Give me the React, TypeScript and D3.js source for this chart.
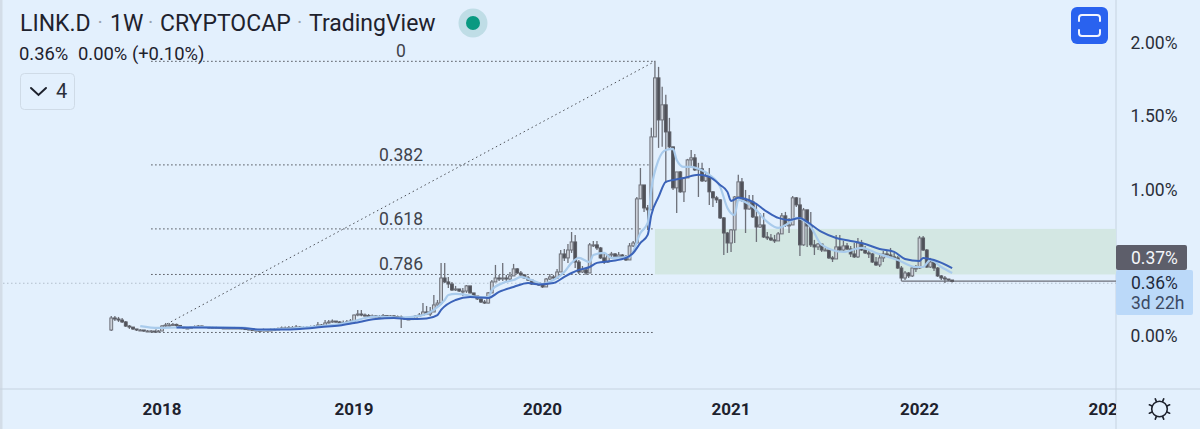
import * as d3 from "d3";

const W = 1200;
const H = 429;
const axisX = 1116;
const axisBottom = 389;

const firstBar = new Date(2017, 8, 25);
const barDate = (i: number) => d3.timeDay.offset(firstBar, i * 7);

// first candle's open; every later candle opens on the previous close
const firstOpen = 0.041;

const closes = [
  0.123, 0.116, 0.109, 0.096, 0.068, 0.061, 0.048, 0.041, 0.041, 0.034, 0.034, 0.034, 0.027, 0.034,
  0.068, 0.075, 0.075, 0.079, 0.072, 0.061, 0.055, 0.051, 0.061, 0.065,
  0.068, 0.065, 0.061, 0.058, 0.058, 0.058, 0.055, 0.055, 0.055, 0.055, 0.055, 0.055,
  0.051, 0.048, 0.044, 0.041, 0.038, 0.038, 0.041, 0.038, 0.041, 0.044, 0.048, 0.055, 0.055, 0.058, 0.058, 0.061, 0.058, 0.055, 0.058, 0.061, 0.065,
  0.075, 0.072, 0.089, 0.096, 0.102, 0.096, 0.092, 0.092, 0.096, 0.102, 0.143, 0.15, 0.143, 0.14, 0.137, 0.137, 0.133, 0.13, 0.14, 0.137, 0.137, 0.133, 0.13, 0.123,
  0.116, 0.116, 0.119, 0.137, 0.143, 0.164, 0.15, 0.164, 0.212, 0.225, 0.396, 0.369, 0.355, 0.314, 0.321, 0.307, 0.307, 0.342, 0.294, 0.273,
  0.253, 0.232, 0.225, 0.294, 0.369, 0.396, 0.389, 0.396, 0.389, 0.41, 0.458, 0.43, 0.417, 0.396, 0.382, 0.355, 0.362, 0.348, 0.335, 0.389,
  0.403, 0.396, 0.437, 0.56, 0.533, 0.587, 0.642, 0.505, 0.437, 0.451, 0.43, 0.622, 0.622, 0.601, 0.533, 0.505, 0.553, 0.56, 0.54, 0.553,
  0.54, 0.519, 0.615, 0.635, 0.936, 1.031, 0.874, 0.861, 1.359, 1.762, 1.475, 1.578, 1.393, 1.291, 1.011, 1.12, 0.984, 1.079, 1.202, 1.216,
  1.134, 1.141, 1.059, 1.093, 0.984, 0.943, 0.929, 0.806, 0.703, 0.635, 0.724, 0.949, 1.052, 0.929, 0.867, 0.915, 0.813, 0.744, 0.758, 0.676,
  0.669, 0.656, 0.649, 0.697, 0.82, 0.758, 0.758, 0.943, 0.895, 0.622, 0.861, 0.751, 0.622, 0.608, 0.628, 0.587, 0.587, 0.533, 0.526, 0.608,
  0.587, 0.615, 0.594, 0.56, 0.54, 0.635, 0.587, 0.567, 0.56, 0.505, 0.485, 0.533, 0.56, 0.553, 0.54, 0.533, 0.464, 0.396, 0.43, 0.41,
  0.464, 0.464, 0.669, 0.587, 0.471, 0.505, 0.464, 0.41, 0.396, 0.389, 0.382, 0.372,
];

const highs = [
  0.137, 0.137, 0.13, 0.123, 0.102, 0.075, 0.061, 0.048, 0.048, 0.041, 0.041, 0.041, 0.034, 0.041,
  0.075, 0.089, 0.089, 0.089, 0.085, 0.075, 0.065, 0.061, 0.068, 0.072,
  0.075, 0.072, 0.068, 0.068, 0.065, 0.065, 0.062, 0.062, 0.062, 0.062, 0.062, 0.062,
  0.061, 0.058, 0.054, 0.051, 0.048, 0.048, 0.051, 0.048, 0.051, 0.054, 0.058, 0.065, 0.065, 0.068, 0.068, 0.075, 0.068, 0.065, 0.068, 0.071, 0.075,
  0.096, 0.082, 0.109, 0.109, 0.113, 0.102, 0.102, 0.106, 0.109, 0.116, 0.147, 0.178, 0.178, 0.154, 0.15, 0.147, 0.143, 0.143, 0.15, 0.143, 0.143, 0.143, 0.14, 0.14,
  0.13, 0.123, 0.126, 0.143, 0.157, 0.225, 0.205, 0.198, 0.28, 0.246, 0.499, 0.499, 0.403, 0.369, 0.342, 0.321, 0.328, 0.348, 0.342, 0.294,
  0.273, 0.26, 0.246, 0.301, 0.382, 0.485, 0.417, 0.499, 0.417, 0.437, 0.492, 0.464, 0.444, 0.417, 0.41, 0.382, 0.376, 0.369, 0.355, 0.396,
  0.423, 0.417, 0.458, 0.587, 0.594, 0.628, 0.71, 0.69, 0.519, 0.478, 0.458, 0.635, 0.649, 0.649, 0.608, 0.567, 0.56, 0.574, 0.567, 0.574,
  0.56, 0.553, 0.635, 0.649, 0.949, 1.147, 1.031, 0.895, 1.421, 1.878, 1.837, 1.701, 1.646, 1.489, 1.291, 1.12, 1.127, 1.086, 1.209, 1.27,
  1.243, 1.182, 1.182, 1.113, 1.147, 0.99, 0.956, 0.936, 0.813, 0.71, 0.731, 0.956, 1.1, 1.079, 0.997, 0.963, 0.963, 0.908, 0.84, 0.84,
  0.71, 0.697, 0.69, 0.71, 0.84, 0.847, 0.806, 0.956, 0.949, 0.943, 0.874, 0.861, 0.847, 0.656, 0.635, 0.622, 0.601, 0.587, 0.546, 0.69,
  0.69, 0.649, 0.635, 0.615, 0.635, 0.669, 0.656, 0.615, 0.587, 0.567, 0.54, 0.567, 0.581, 0.581, 0.601, 0.567, 0.546, 0.478, 0.444, 0.437,
  0.471, 0.485, 0.683, 0.683, 0.594, 0.533, 0.505, 0.471, 0.417, 0.41, 0.389, 0.379,
];

const lows = [
  0.034, 0.102, 0.096, 0.089, 0.061, 0.048, 0.041, 0.034, 0.034, 0.027, 0.027, 0.027, 0.024, 0.027,
  0.034, 0.061, 0.065, 0.068, 0.061, 0.055, 0.048, 0.048, 0.048, 0.055,
  0.061, 0.058, 0.055, 0.051, 0.051, 0.051, 0.051, 0.051, 0.051, 0.051, 0.051, 0.051,
  0.046, 0.043, 0.039, 0.036, 0.033, 0.033, 0.036, 0.033, 0.036, 0.039, 0.043, 0.05, 0.05, 0.053, 0.053, 0.056, 0.053, 0.05, 0.053, 0.056, 0.058,
  0.063, 0.065, 0.07, 0.085, 0.09, 0.09, 0.085, 0.085, 0.088, 0.092, 0.1, 0.135, 0.135, 0.135, 0.13, 0.13, 0.127, 0.125, 0.128, 0.13, 0.13, 0.127, 0.123, 0.055,
  0.109, 0.109, 0.113, 0.119, 0.13, 0.143, 0.143, 0.137, 0.164, 0.198, 0.212, 0.362, 0.328, 0.307, 0.307, 0.301, 0.273, 0.294, 0.29, 0.266,
  0.246, 0.225, 0.219, 0.222, 0.294, 0.369, 0.376, 0.376, 0.376, 0.382, 0.41, 0.423, 0.41, 0.389, 0.376, 0.348, 0.348, 0.342, 0.328, 0.335,
  0.382, 0.389, 0.389, 0.437, 0.512, 0.499, 0.567, 0.464, 0.423, 0.43, 0.417, 0.43, 0.608, 0.587, 0.526, 0.492, 0.499, 0.526, 0.533, 0.533,
  0.533, 0.512, 0.519, 0.608, 0.635, 0.943, 0.847, 0.724, 0.861, 1.359, 1.284, 1.291, 1.045, 1.27, 0.997, 0.84, 0.977, 0.915, 1.079, 1.147,
  1.127, 0.949, 1.052, 1.052, 0.895, 0.881, 0.908, 0.799, 0.553, 0.567, 0.574, 0.635, 0.943, 0.915, 0.703, 0.861, 0.806, 0.642, 0.738, 0.669,
  0.656, 0.649, 0.635, 0.649, 0.697, 0.744, 0.703, 0.772, 0.881, 0.546, 0.615, 0.608, 0.608, 0.553, 0.587, 0.574, 0.581, 0.526, 0.505, 0.526,
  0.581, 0.574, 0.587, 0.54, 0.533, 0.533, 0.581, 0.56, 0.533, 0.499, 0.478, 0.471, 0.505, 0.546, 0.533, 0.526, 0.458, 0.376, 0.382, 0.396,
  0.403, 0.437, 0.458, 0.581, 0.464, 0.464, 0.444, 0.403, 0.382, 0.362, 0.376, 0.365,
];

const slowMaBars = [
  18, 25, 36, 41, 47, 52, 58, 63, 67, 73, 78, 82, 87, 90, 91, 95, 99, 104, 107, 111, 115, 118, 122, 125, 127, 129, 132, 134, 138, 142,
  144, 146, 148, 149, 151, 153, 155, 158, 162, 165, 168, 170, 171, 173, 177, 181, 184, 187, 190, 192, 196, 200, 204, 208, 212, 216, 219, 223, 224, 227, 232,
];
const slowMa = [
  0.058, 0.058, 0.055, 0.044, 0.044, 0.048, 0.061, 0.072, 0.089, 0.116, 0.123, 0.116, 0.12, 0.143, 0.178, 0.246, 0.266, 0.26, 0.301, 0.335, 0.362, 0.352, 0.362, 0.403, 0.43, 0.451, 0.471, 0.499, 0.512, 0.533,
  0.567, 0.635, 0.69, 0.826, 0.949, 1.052, 1.065, 1.079, 1.1, 1.086, 1.031, 0.984, 0.922, 0.943, 0.915, 0.847, 0.806, 0.792, 0.806, 0.779, 0.71, 0.669, 0.649, 0.628, 0.594, 0.574, 0.526, 0.512, 0.533, 0.519, 0.464,
];

const fastMaBars = [
  8, 13, 18, 25, 36, 41, 47, 52, 58, 63, 67, 70, 74, 80, 85, 89, 92, 93, 95, 98, 101, 104, 105, 108, 111, 113, 116, 119, 122, 125, 127, 129, 132, 133, 136, 138, 143,
  146, 148, 149, 151, 153, 155, 156, 158, 160, 162, 165, 168, 170, 172, 173, 177, 181, 184, 187, 189, 193, 196, 202, 207, 211, 217, 222, 224, 226, 229, 232,
];
const fastMa = [
  0.068, 0.055, 0.058, 0.061, 0.058, 0.041, 0.048, 0.055, 0.068, 0.082, 0.102, 0.123, 0.133, 0.126, 0.137, 0.178, 0.246, 0.28, 0.287, 0.28, 0.266, 0.266, 0.314, 0.362, 0.382, 0.403, 0.382, 0.355, 0.382, 0.437, 0.499, 0.533, 0.505, 0.553, 0.567, 0.533, 0.54,
  0.703, 0.772, 0.997, 1.202, 1.27, 1.277, 1.202, 1.154, 1.154, 1.141, 1.1, 1.018, 0.874, 0.826, 0.929, 0.881, 0.779, 0.738, 0.772, 0.806, 0.744, 0.622, 0.574, 0.601, 0.567, 0.519, 0.471, 0.471, 0.519, 0.471, 0.43,
];

const priceTicks = [0, 1, 1.5, 2];
const yearTicks = [
  { date: new Date(2018, 0, 1), label: "2018" },
  { date: new Date(2019, 0, 7), label: "2019" },
  { date: new Date(2020, 0, 6), label: "2020" },
  { date: new Date(2021, 0, 4), label: "2021" },
  { date: new Date(2022, 0, 3), label: "2022" },
  { date: new Date(2023, 0, 2), label: "2023" },
];

const fibLevels = [0, 0.382, 0.618, 0.786, 1];
const fibHigh = 1.875;
const fibLow = 0.024;
const fibStartBar = 11;
const fibEndBar = 150;
const lastPrice = 0.36;
const stopLevel = 0.375;
const stopBar = 218;

const x = d3.scaleTime().domain([new Date(2018, 0, 1), new Date(2023, 0, 2)]).range([162, 1108]);
const y = d3.scaleLinear().domain([0, 2]).range([336, 43]);
const fibY = (lvl: number) => y(fibHigh - lvl * (fibHigh - fibLow));

const font = "Roboto, sans-serif";
const bg = "#e3f0fd";
const wick = "#6d7079";
const ink = "#1e222d";

export default function App() {
  const maLine = (bars: number[], vals: number[]) =>
    d3.line<number>()
      .x((b) => x(barDate(b)))
      .y((_, i) => y(vals[i]))
      .curve(d3.curveMonotoneX)(bars) as string;

  const fibX0 = x(barDate(fibStartBar));
  const fibX1 = x(barDate(fibEndBar));

  return (
    <svg width={W} height={H} style={{ position: "absolute", left: 0, top: 0, background: bg, fontFamily: font }}>
      <defs>
        <clipPath id="time-clip"><rect x={0} y={axisBottom} width={axisX} height={H - axisBottom} /></clipPath>
      </defs>
      <rect x={0} y={0} width={2.5} height={H} fill="#d3dde8" />
      <line x1={axisX} x2={axisX} y1={0} y2={H} stroke="#c6d3e0" />
      <line x1={0} x2={W} y1={axisBottom} y2={axisBottom} stroke="#c6d3e0" />

      <rect x={fibX1} y={fibY(0.618)} width={axisX - fibX1} height={fibY(0.786) - fibY(0.618)} fill="#d3e7e3" />
      <line x1={3} x2={axisX} y1={y(lastPrice)} y2={y(lastPrice)} stroke="#b3bfcc" strokeDasharray="1.5 2.5" />

      {fibLevels.map((l) => (
        <line key={l} x1={fibX0} x2={fibX1} y1={fibY(l)} y2={fibY(l)} stroke="#4d5057" strokeDasharray="1.5 2.5" />
      ))}
      <line x1={fibX0} x2={fibX1} y1={fibY(1)} y2={fibY(0)} stroke="#4d5057" strokeDasharray="1.5 3" />
      {fibLevels.slice(0, 4).map((l) => (
        <text key={l} x={401} y={fibY(l) - 4} textAnchor="middle" fontSize={17.5} fill="#40434b">{l}</text>
      ))}

      <line x1={x(barDate(stopBar))} x2={axisX} y1={y(stopLevel)} y2={y(stopLevel)} stroke="#6b6e79" strokeWidth={1.2} />

      {closes.map((c, i) => {
        const o = i === 0 ? firstOpen : closes[i - 1];
        const cx = x(barDate(i));
        const top = y(Math.max(o, c));
        const bot = y(Math.min(o, c));
        return (
          <g key={i}>
            <line x1={cx} x2={cx} y1={y(Math.max(highs[i], o, c))} y2={y(Math.min(lows[i], o, c))} stroke={wick} strokeWidth={1.3} />
            <rect x={cx - 1.4} y={top} width={2.8} height={Math.max(bot - top, 1)}
              fill={c >= o ? "#cbd0d8" : "#4f5159"} stroke={c >= o ? "#6f727b" : "#5c5e66"} strokeWidth={1} />
          </g>
        );
      })}

      <path d={maLine(fastMaBars, fastMa)} fill="none" stroke="#a9cbec" strokeWidth={2.2} />
      <path d={maLine(slowMaBars, slowMa)} fill="none" stroke="#3b63b9" strokeWidth={2} />

      {priceTicks.map((t) => (
        <text key={t} x={1130.5} y={y(t) + 6} fontSize={17.5} fill="#2a2e39">{t.toFixed(2)}%</text>
      ))}
      <rect x={axisX} y={245} width={71} height={25} rx={2} fill="#5d5e6a" />
      <text x={1131} y={264} fontSize={17.5} fill="#f4f6fa">0.37%</text>
      <rect x={axisX} y={270} width={77} height={45} rx={2} fill="#bbd9f9" />
      <text x={1131} y={289} fontSize={17.5} fill="#1f2a3d">0.36%</text>
      <text x={1131} y={309} fontSize={17.5} fill="#3c4a63">3d 22h</text>

      <g clipPath="url(#time-clip)">
        {yearTicks.map((t) => (
          <text key={t.label} x={x(t.date)} y={415} textAnchor="middle" fontSize={17} fontWeight={700} fill={ink}>{t.label}</text>
        ))}
      </g>

      {/* header */}
      <g fontSize={23} fill={ink}>
        <text x={20} y={31}>LINK.D</text>
        <text x={110} y={31}>1W</text>
        <text x={160} y={31}>CRYPTOCAP</text>
        <text x={309} y={31}>TradingView</text>
      </g>
      <g fontSize={20} fill="#9aa3ae" textAnchor="middle">
        <text x={100} y={29}>·</text>
        <text x={150.5} y={29}>·</text>
        <text x={299.5} y={29}>·</text>
      </g>
      <circle cx={473} cy={23} r={14.5} fill="#bfdde6" />
      <circle cx={473} cy={23} r={7} fill="#0a9981" />
      <text x={19} y={60} fontSize={18.4} fill={ink}>0.36%</text>
      <text x={78} y={60} fontSize={18.4} fill={ink}>0.00% (+0.10%)</text>
      <rect x={20.5} y={73.5} width={54} height={36} rx={4} fill="#e3f0fd" stroke="#cfdbe7" />
      <path d="M31 88 L38.5 95 L46 88" fill="none" stroke={ink} strokeWidth={2} strokeLinecap="round" />
      <text x={56} y={98} fontSize={20} fill="#2a2e39">4</text>

      <rect x={1071} y={7} width={37} height={37} rx={6} fill="#2962ef" />
      <path d="M1079 21 V18 Q1079 15 1082 15 H1097 Q1100 15 1100 18 V21 M1079 30 V33 Q1079 36 1082 36 H1097 Q1100 36 1100 33 V30"
        fill="none" stroke="#f2f5ff" strokeWidth={2} strokeLinecap="round" />

      <circle cx={1159.5} cy={409} r={7.8} fill="none" stroke={ink} strokeWidth={1.6} />
      {d3.range(8).map((k) => {
        const a = (k * Math.PI) / 4 + Math.PI / 8;
        return (
          <line key={k} x1={1159.5 + 8 * Math.cos(a)} y1={409 + 8 * Math.sin(a)} x2={1159.5 + 11 * Math.cos(a)} y2={409 + 11 * Math.sin(a)}
            stroke={ink} strokeWidth={1.6} strokeLinecap="round" />
        );
      })}
    </svg>
  );
}
